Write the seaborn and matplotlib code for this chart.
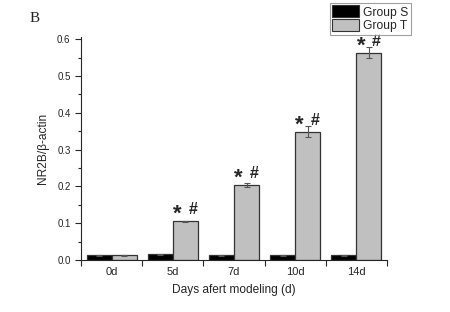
import matplotlib
matplotlib.use("Agg")
import matplotlib.pyplot as plt
import matplotlib.ticker as mticker
import numpy as np
import pandas as pd
import seaborn as sns

days = ["0d", "5d", "7d", "10d", "14d"]
groups = ["Group S", "Group T"]
group_s = [0.013, 0.015, 0.013, 0.013, 0.013]
group_t = [0.013, 0.105, 0.203, 0.349, 0.563]
err_s = [0.001, 0.001, 0.001, 0.001, 0.001]
err_t = [0.001, 0.001, 0.005, 0.015, 0.015]
signif = [False, True, True, True, True]

df = pd.DataFrame({
    "day": days * 2,
    "group": [groups[0]] * len(days) + [groups[1]] * len(days),
    "value": group_s + group_t,
    "err": err_s + err_t,
})

sns.set_style("ticks")
plt.rcParams["font.family"] = ["Liberation Sans", "DejaVu Sans"]

fig = plt.figure(figsize=(4.5, 3.12), dpi=100)
ax = fig.add_axes([0.18, 0.1667, 0.68, 0.714])

colors = ["black", "#c0c0c0"]
sns.barplot(data=df, x="day", y="value", hue="group", palette=colors,
            errorbar=None, width=0.82, edgecolor="#333333", linewidth=0.9,
            legend=False, ax=ax)

for cont, g in zip(ax.containers, groups):
    sub = df[df["group"] == g]
    xs = [p.get_x() + p.get_width() / 2 for p in cont.patches]
    ax.errorbar(xs, sub["value"], yerr=sub["err"], fmt="none",
                ecolor="#555555", elinewidth=0.8, capsize=2.2, capthick=0.8)
    if g == groups[1]:
        for x, v, s in zip(xs, sub["value"], signif):
            if not s:
                continue
            # big asterisk sitting on the baseline, hash to its right
            ax.annotate("*", (x, v + 0.019), xytext=(-5.8, -4.2), textcoords="offset points",
                        ha="center", va="baseline", fontsize=16, fontweight="bold",
                        annotation_clip=False)
            ax.annotate("#", (x, v + 0.019), xytext=(5.4, 0), textcoords="offset points",
                        ha="center", va="baseline", fontsize=11.5, fontweight="bold",
                        annotation_clip=False)

ax.set_xlim(-0.5, 4.5)
ax.set_ylim(0, 0.6055)
ax.yaxis.set_major_locator(mticker.MultipleLocator(0.1))
ax.yaxis.set_minor_locator(mticker.MultipleLocator(0.05))
ax.yaxis.set_major_formatter(mticker.FormatStrFormatter("%.1f"))

# boundary ticks, labels centred between them
ax.set_xticks(np.arange(-0.5, 5, 1.0))
ax.set_xticklabels([])
ax.set_xticks(range(len(days)), minor=True)
ax.set_xticklabels(days, minor=True)
ax.tick_params(axis="x", which="minor", length=0, pad=5, labelsize=8)
ax.tick_params(axis="x", which="major", length=4, width=0.8, direction="out")
ax.tick_params(axis="y", which="major", length=4, width=0.8, direction="out", labelsize=7)
ax.tick_params(axis="y", which="minor", length=2, width=0.8, direction="out")

for s in ["top", "right"]:
    ax.spines[s].set_visible(False)
for s in ["left", "bottom"]:
    ax.spines[s].set_linewidth(0.8)

ax.set_xlabel("Days afert modeling (d)", fontsize=8.6, labelpad=5)
ax.set_ylabel("NR2B/β-actin", fontsize=8.6, labelpad=6)

handles = [plt.Rectangle((0, 0), 1, 1, facecolor=c, edgecolor="#333333", linewidth=0.8)
           for c in colors]
leg = fig.legend(handles, groups, loc="upper left", bbox_to_anchor=(330 / 450, 1 - 3 / 312),
                 fontsize=8.7, frameon=True, fancybox=False, handlelength=2.2,
                 handleheight=1.15, labelspacing=0.05, handletextpad=0.35,
                 borderpad=0.2, borderaxespad=0)
leg.get_frame().set_edgecolor("#888888")
leg.get_frame().set_linewidth(0.8)

fig.text(30 / 450, 1 - 18 / 312, "B", fontsize=11, family="Liberation Serif",
         va="center", ha="left")

fig.savefig("out.png", dpi=100)
